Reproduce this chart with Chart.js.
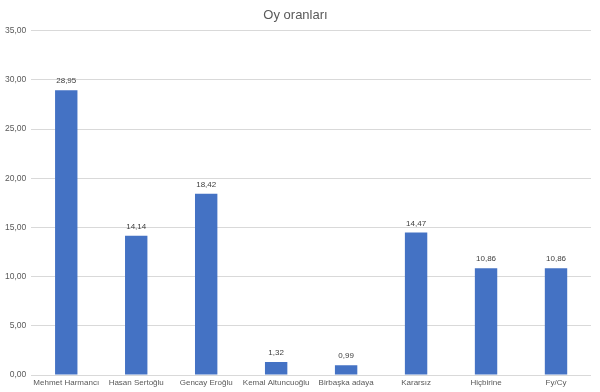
<!DOCTYPE html>
<html lang="tr">
<head>
<meta charset="UTF-8">
<title>Oy oranları</title>
<script src="https://cdn.jsdelivr.net/npm/chart.js@4.4.0/dist/chart.umd.min.js"></script>
<style>
  body { margin: 0; background: #fff; }
  #wrap { width: 600px; height: 392px; }
</style>
</head>
<body>
<div id="wrap"><canvas id="chart"></canvas></div>
<script>
const candidates = ["Mehmet Harmancı", "Hasan Sertoğlu", "Gencay Eroğlu", "Kemal Altuncuoğlu", "Birbaşka adaya", "Kararsız", "Hiçbirine", "Fy/Cy"];
const shares = [28.95, 14.14, 18.42, 1.32, 0.99, 14.47, 10.86, 10.86];

const fmt = v => v.toFixed(2).replace(".", ",");

// draws the value above each bar
const valueLabels = {
  id: "valueLabels",
  afterDatasetsDraw(chart) {
    const ctx = chart.ctx;
    const meta = chart.getDatasetMeta(0);
    ctx.save();
    ctx.font = "8px 'Liberation Sans', sans-serif";
    ctx.fillStyle = "#404040";
    ctx.textAlign = "center";
    ctx.textBaseline = "bottom";
    meta.data.forEach((bar, i) => {
      ctx.fillText(fmt(shares[i]), bar.x, bar.y - 5);
    });
    ctx.restore();
  }
};

new Chart(document.getElementById("chart"), {
  type: "bar",
  data: {
    labels: candidates,
    datasets: [{
      data: shares,
      backgroundColor: "#4472C4",
      categoryPercentage: 1,
      barPercentage: 0.32
    }]
  },
  options: {
    responsive: true,
    maintainAspectRatio: false,
    animation: false,
    layout: { padding: { left: 0, right: 9, top: 0, bottom: 1 } },
    plugins: {
      legend: { display: false },
      tooltip: { enabled: false },
      title: {
        display: true,
        text: "Oy oranları",
        color: "#595959",
        font: { family: "'Liberation Sans', sans-serif", size: 13, weight: "normal" },
        padding: { top: 8, bottom: 7 }
      }
    },
    scales: {
      x: {
        grid: { display: false, drawTicks: false },
        border: { display: false },
        ticks: {
          color: "#595959",
          font: { family: "'Liberation Sans', sans-serif", size: 8, lineHeight: 1 },
          maxRotation: 0,
          autoSkip: false,
          padding: 4
        }
      },
      y: {
        min: 0,
        max: 35,
        grid: { color: "#d9d9d9", drawTicks: false },
        border: { display: false },
        ticks: {
          stepSize: 5,
          color: "#595959",
          font: { family: "'Liberation Sans', sans-serif", size: 8.5 },
          padding: 5,
          callback: v => fmt(v)
        }
      }
    }
  },
  plugins: [valueLabels]
});
</script>
</body>
</html>
